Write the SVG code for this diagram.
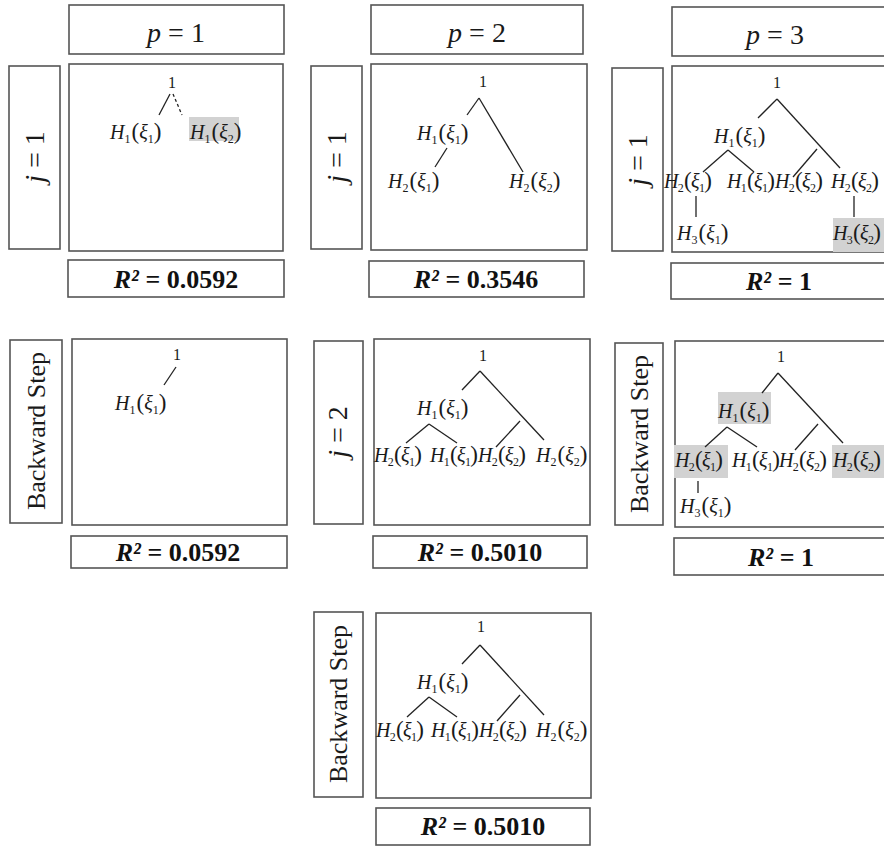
<svg xmlns="http://www.w3.org/2000/svg" width="884" height="847" viewBox="0 0 884 847">
<style>
.box{fill:none;stroke:#555;stroke-width:1.6}
.hl{fill:#d2d2d2;stroke:none}
.e{stroke:#222;stroke-width:1.3;fill:none}
.d{stroke:#222;stroke-width:1.3;fill:none;stroke-dasharray:3 2.5}
.t{font-family:"Liberation Serif","Times New Roman",serif;font-size:20px;fill:#1a1a1a}
.n{letter-spacing:-0.7px}
.i{font-style:italic}
.s{font-size:12px;font-style:normal}
.pr{font-size:23px}
.one{font-family:"Liberation Serif","Times New Roman",serif;font-size:16px;fill:#1a1a1a;text-anchor:middle}
.hd{font-family:"Liberation Serif","Times New Roman",serif;font-size:28px;fill:#1a1a1a;text-anchor:middle}
.r2{font-family:"Liberation Serif","Times New Roman",serif;font-size:26px;font-weight:bold;fill:#111;text-anchor:middle}
.vl{font-family:"Liberation Serif","Times New Roman",serif;font-size:26px;fill:#1a1a1a;text-anchor:middle}
</style>
<rect width="884" height="847" fill="#fff"/>

<!-- headers -->
<g id="hdr-p1"><rect class="box" x="69" y="5" width="215" height="49"/><text class="hd" x="176" y="42"><tspan class="i">p</tspan> = 1</text></g>
<g id="hdr-p2"><rect class="box" x="371" y="5" width="212" height="49"/><text class="hd" x="477" y="42"><tspan class="i">p</tspan> = 2</text></g>
<g id="hdr-p3"><rect class="box" x="672" y="7" width="220" height="49"/><text class="hd" x="775" y="44"><tspan class="i">p</tspan> = 3</text></g>

<!-- side labels -->
<g id="lbl-r1c1"><rect class="box" x="9" y="66" width="51" height="183"/><text class="hd" transform="translate(44,157) rotate(-90)"><tspan class="i">j</tspan> = 1</text></g>
<g id="lbl-r1c2"><rect class="box" x="311" y="66" width="51" height="183"/><text class="hd" transform="translate(346,157) rotate(-90)"><tspan class="i">j</tspan> = 1</text></g>
<g id="lbl-r1c3"><rect class="box" x="612" y="68" width="51" height="183"/><text class="hd" transform="translate(647,160) rotate(-90)"><tspan class="i">j</tspan> = 1</text></g>
<g id="lbl-r2c1"><rect class="box" x="10" y="340" width="52" height="183"/><text class="vl" transform="translate(45,431) rotate(-90)">Backward Step</text></g>
<g id="lbl-r2c2"><rect class="box" x="314" y="341" width="49" height="183"/><text class="hd" transform="translate(347,432) rotate(-90)"><tspan class="i">j</tspan> = 2</text></g>
<g id="lbl-r2c3"><rect class="box" x="615" y="343" width="48" height="182"/><text class="vl" transform="translate(648,434) rotate(-90)">Backward Step</text></g>
<g id="lbl-r3"><rect class="box" x="314" y="612" width="49" height="185"/><text class="vl" transform="translate(347,704) rotate(-90)">Backward Step</text></g>

<!-- R2 boxes -->
<g id="r2-r1c1"><rect class="box" x="68" y="260" width="216" height="37"/><text class="r2" x="176" y="288"><tspan class="i">R²</tspan> = 0.0592</text></g>
<g id="r2-r1c2"><rect class="box" x="369" y="261" width="215" height="36"/><text class="r2" x="476" y="288"><tspan class="i">R²</tspan> = 0.3546</text></g>
<g id="r2-r1c3"><rect class="box" x="671" y="263" width="220" height="36"/><text class="r2" x="779" y="290"><tspan class="i">R²</tspan> = 1</text></g>
<g id="r2-r2c1"><rect class="box" x="71" y="536" width="216" height="32"/><text class="r2" x="178" y="561"><tspan class="i">R²</tspan> = 0.0592</text></g>
<g id="r2-r2c2"><rect class="box" x="373" y="536" width="214" height="32"/><text class="r2" x="480" y="561"><tspan class="i">R²</tspan> = 0.5010</text></g>
<g id="r2-r2c3"><rect class="box" x="674" y="538" width="217" height="37"/><text class="r2" x="781" y="566"><tspan class="i">R²</tspan> = 1</text></g>
<g id="r2-r3"><rect class="box" x="376" y="808" width="214" height="37"/><text class="r2" x="483" y="835"><tspan class="i">R²</tspan> = 0.5010</text></g>

<!-- panel A -->
<g id="panel-A">
<rect class="box" x="69" y="64" width="214" height="187"/>
<rect class="hl" x="189" y="117" width="50" height="24"/>
<text class="one" x="172" y="88">1</text>
<text class="t" x="110" y="139"><tspan class="i">H</tspan><tspan class="s" dy="4">1</tspan><tspan class="pr" dy="-4" dx="1">(</tspan><tspan class="i">ξ</tspan><tspan class="s" dy="4">1</tspan><tspan class="pr" dy="-4">)</tspan></text>
<text class="t" x="190" y="139"><tspan class="i">H</tspan><tspan class="s" dy="4">1</tspan><tspan class="pr" dy="-4" dx="1">(</tspan><tspan class="i">ξ</tspan><tspan class="s" dy="4">2</tspan><tspan class="pr" dy="-4">)</tspan></text>
</g>

<!-- panel B -->
<g id="panel-B">
<rect class="box" x="371" y="64" width="216" height="186"/>
<text class="one" x="483" y="87">1</text>
<text class="t" x="417" y="140"><tspan class="i">H</tspan><tspan class="s" dy="4">1</tspan><tspan class="pr" dy="-4" dx="1">(</tspan><tspan class="i">ξ</tspan><tspan class="s" dy="4">1</tspan><tspan class="pr" dy="-4">)</tspan></text>
<text class="t" x="388" y="188"><tspan class="i">H</tspan><tspan class="s" dy="4">2</tspan><tspan class="pr" dy="-4" dx="1">(</tspan><tspan class="i">ξ</tspan><tspan class="s" dy="4">1</tspan><tspan class="pr" dy="-4">)</tspan></text>
<text class="t" x="509" y="188"><tspan class="i">H</tspan><tspan class="s" dy="4">2</tspan><tspan class="pr" dy="-4" dx="1">(</tspan><tspan class="i">ξ</tspan><tspan class="s" dy="4">2</tspan><tspan class="pr" dy="-4">)</tspan></text>
</g>

<!-- panel C -->
<g id="panel-C">
<rect class="box" x="672" y="66" width="220" height="186"/>
<rect class="hl" x="833" y="218" width="53" height="34"/>
<text class="one" x="777" y="88">1</text>
<text class="t" x="714" y="143"><tspan class="i">H</tspan><tspan class="s" dy="4">1</tspan><tspan class="pr" dy="-4" dx="1">(</tspan><tspan class="i">ξ</tspan><tspan class="s" dy="4">1</tspan><tspan class="pr" dy="-4">)</tspan></text>
<text class="t n" x="664" y="188"><tspan class="i">H</tspan><tspan class="s" dy="4">2</tspan><tspan class="pr" dy="-4" dx="1">(</tspan><tspan class="i">ξ</tspan><tspan class="s" dy="4">1</tspan><tspan class="pr" dy="-4">)</tspan></text>
<text class="t n" x="727" y="188"><tspan class="i">H</tspan><tspan class="s" dy="4">1</tspan><tspan class="pr" dy="-4" dx="1">(</tspan><tspan class="i">ξ</tspan><tspan class="s" dy="4">1</tspan><tspan class="pr" dy="-4">)</tspan></text>
<text class="t n" x="775" y="188"><tspan class="i">H</tspan><tspan class="s" dy="4">2</tspan><tspan class="pr" dy="-4" dx="1">(</tspan><tspan class="i">ξ</tspan><tspan class="s" dy="4">2</tspan><tspan class="pr" dy="-4">)</tspan></text>
<text class="t n" x="831" y="188"><tspan class="i">H</tspan><tspan class="s" dy="4">2</tspan><tspan class="pr" dy="-4" dx="1">(</tspan><tspan class="i">ξ</tspan><tspan class="s" dy="4">2</tspan><tspan class="pr" dy="-4">)</tspan></text>
<text class="t" x="677" y="240"><tspan class="i">H</tspan><tspan class="s" dy="4">3</tspan><tspan class="pr" dy="-4" dx="1">(</tspan><tspan class="i">ξ</tspan><tspan class="s" dy="4">1</tspan><tspan class="pr" dy="-4">)</tspan></text>
<text class="t n" x="833" y="240"><tspan class="i">H</tspan><tspan class="s" dy="4">3</tspan><tspan class="pr" dy="-4" dx="1">(</tspan><tspan class="i">ξ</tspan><tspan class="s" dy="4">2</tspan><tspan class="pr" dy="-4">)</tspan></text>
</g>

<!-- panel D -->
<g id="panel-D">
<rect class="box" x="72" y="339" width="215" height="186"/>
<text class="one" x="177" y="360">1</text>
<text class="t" x="115" y="410"><tspan class="i">H</tspan><tspan class="s" dy="4">1</tspan><tspan class="pr" dy="-4" dx="1">(</tspan><tspan class="i">ξ</tspan><tspan class="s" dy="4">1</tspan><tspan class="pr" dy="-4">)</tspan></text>
</g>

<!-- panel E -->
<g id="panel-E">
<rect class="box" x="374" y="339" width="216" height="186"/>
<text class="one" x="483" y="361">1</text>
<text class="t" x="417" y="415"><tspan class="i">H</tspan><tspan class="s" dy="4">1</tspan><tspan class="pr" dy="-4" dx="1">(</tspan><tspan class="i">ξ</tspan><tspan class="s" dy="4">1</tspan><tspan class="pr" dy="-4">)</tspan></text>
<text class="t n" x="374" y="462"><tspan class="i">H</tspan><tspan class="s" dy="4">2</tspan><tspan class="pr" dy="-4" dx="1">(</tspan><tspan class="i">ξ</tspan><tspan class="s" dy="4">1</tspan><tspan class="pr" dy="-4">)</tspan></text>
<text class="t n" x="430" y="462"><tspan class="i">H</tspan><tspan class="s" dy="4">1</tspan><tspan class="pr" dy="-4" dx="1">(</tspan><tspan class="i">ξ</tspan><tspan class="s" dy="4">1</tspan><tspan class="pr" dy="-4">)</tspan></text>
<text class="t n" x="478" y="462"><tspan class="i">H</tspan><tspan class="s" dy="4">2</tspan><tspan class="pr" dy="-4" dx="1">(</tspan><tspan class="i">ξ</tspan><tspan class="s" dy="4">2</tspan><tspan class="pr" dy="-4">)</tspan></text>
<text class="t" x="536" y="462"><tspan class="i">H</tspan><tspan class="s" dy="4">2</tspan><tspan class="pr" dy="-4" dx="1">(</tspan><tspan class="i">ξ</tspan><tspan class="s" dy="4">2</tspan><tspan class="pr" dy="-4">)</tspan></text>
</g>

<!-- panel F -->
<g id="panel-F">
<rect class="box" x="675" y="341" width="216" height="186"/>
<rect class="hl" x="718" y="392" width="53" height="32"/>
<rect class="hl" x="674" y="445" width="54" height="33"/>
<rect class="hl" x="832" y="445" width="54" height="33"/>
<text class="one" x="781" y="362">1</text>
<text class="t" x="718" y="418"><tspan class="i">H</tspan><tspan class="s" dy="4">1</tspan><tspan class="pr" dy="-4" dx="1">(</tspan><tspan class="i">ξ</tspan><tspan class="s" dy="4">1</tspan><tspan class="pr" dy="-4">)</tspan></text>
<text class="t n" x="675" y="467"><tspan class="i">H</tspan><tspan class="s" dy="4">2</tspan><tspan class="pr" dy="-4" dx="1">(</tspan><tspan class="i">ξ</tspan><tspan class="s" dy="4">1</tspan><tspan class="pr" dy="-4">)</tspan></text>
<text class="t n" x="732" y="467"><tspan class="i">H</tspan><tspan class="s" dy="4">1</tspan><tspan class="pr" dy="-4" dx="1">(</tspan><tspan class="i">ξ</tspan><tspan class="s" dy="4">1</tspan><tspan class="pr" dy="-4">)</tspan></text>
<text class="t n" x="779" y="467"><tspan class="i">H</tspan><tspan class="s" dy="4">2</tspan><tspan class="pr" dy="-4" dx="1">(</tspan><tspan class="i">ξ</tspan><tspan class="s" dy="4">2</tspan><tspan class="pr" dy="-4">)</tspan></text>
<text class="t n" x="833" y="467"><tspan class="i">H</tspan><tspan class="s" dy="4">2</tspan><tspan class="pr" dy="-4" dx="1">(</tspan><tspan class="i">ξ</tspan><tspan class="s" dy="4">2</tspan><tspan class="pr" dy="-4">)</tspan></text>
<text class="t" x="680" y="513"><tspan class="i">H</tspan><tspan class="s" dy="4">3</tspan><tspan class="pr" dy="-4" dx="1">(</tspan><tspan class="i">ξ</tspan><tspan class="s" dy="4">1</tspan><tspan class="pr" dy="-4">)</tspan></text>
</g>

<!-- panel G -->
<g id="panel-G">
<rect class="box" x="376" y="613" width="215" height="185"/>
<text class="one" x="481" y="632">1</text>
<text class="t" x="417" y="689"><tspan class="i">H</tspan><tspan class="s" dy="4">1</tspan><tspan class="pr" dy="-4" dx="1">(</tspan><tspan class="i">ξ</tspan><tspan class="s" dy="4">1</tspan><tspan class="pr" dy="-4">)</tspan></text>
<text class="t n" x="376" y="737"><tspan class="i">H</tspan><tspan class="s" dy="4">2</tspan><tspan class="pr" dy="-4" dx="1">(</tspan><tspan class="i">ξ</tspan><tspan class="s" dy="4">1</tspan><tspan class="pr" dy="-4">)</tspan></text>
<text class="t n" x="431" y="737"><tspan class="i">H</tspan><tspan class="s" dy="4">1</tspan><tspan class="pr" dy="-4" dx="1">(</tspan><tspan class="i">ξ</tspan><tspan class="s" dy="4">1</tspan><tspan class="pr" dy="-4">)</tspan></text>
<text class="t n" x="479" y="737"><tspan class="i">H</tspan><tspan class="s" dy="4">2</tspan><tspan class="pr" dy="-4" dx="1">(</tspan><tspan class="i">ξ</tspan><tspan class="s" dy="4">2</tspan><tspan class="pr" dy="-4">)</tspan></text>
<text class="t" x="536" y="737"><tspan class="i">H</tspan><tspan class="s" dy="4">2</tspan><tspan class="pr" dy="-4" dx="1">(</tspan><tspan class="i">ξ</tspan><tspan class="s" dy="4">2</tspan><tspan class="pr" dy="-4">)</tspan></text>
</g>

<!-- connectors -->
<g id="connectors">
<line class="e" x1="170" y1="94" x2="159" y2="115"/>
<line class="d" x1="173" y1="94" x2="182" y2="115"/>

<line class="e" x1="479" y1="98" x2="467" y2="115"/>
<line class="e" x1="479" y1="98" x2="523" y2="172"/>
<line class="e" x1="447" y1="148" x2="435" y2="167"/>

<line class="e" x1="777" y1="99" x2="758" y2="118"/>
<line class="e" x1="777" y1="99" x2="840" y2="168"/>
<line class="e" x1="728" y1="150" x2="703" y2="172"/>
<line class="e" x1="728" y1="150" x2="754" y2="172"/>
<line class="e" x1="817" y1="149" x2="793" y2="177"/>
<line class="e" x1="696" y1="196" x2="696" y2="217"/>
<line class="e" x1="854" y1="196" x2="854" y2="217"/>

<line class="e" x1="176" y1="367" x2="164" y2="385"/>

<line class="e" x1="480" y1="371" x2="462" y2="390"/>
<line class="e" x1="480" y1="371" x2="544" y2="440"/>
<line class="e" x1="429" y1="424" x2="406" y2="443"/>
<line class="e" x1="429" y1="424" x2="457" y2="443"/>
<line class="e" x1="520" y1="421" x2="496" y2="447"/>

<line class="e" x1="778" y1="373" x2="762" y2="393"/>
<line class="e" x1="778" y1="373" x2="843" y2="443"/>
<line class="e" x1="727" y1="427" x2="705" y2="447"/>
<line class="e" x1="727" y1="427" x2="757" y2="447"/>
<line class="e" x1="818" y1="424" x2="795" y2="450"/>
<line class="e" x1="698" y1="481" x2="698" y2="493"/>

<line class="e" x1="480" y1="645" x2="462" y2="664"/>
<line class="e" x1="480" y1="645" x2="544" y2="715"/>
<line class="e" x1="429" y1="697" x2="407" y2="717"/>
<line class="e" x1="429" y1="697" x2="457" y2="717"/>
<line class="e" x1="520" y1="695" x2="497" y2="721"/>
</g>
</svg>
